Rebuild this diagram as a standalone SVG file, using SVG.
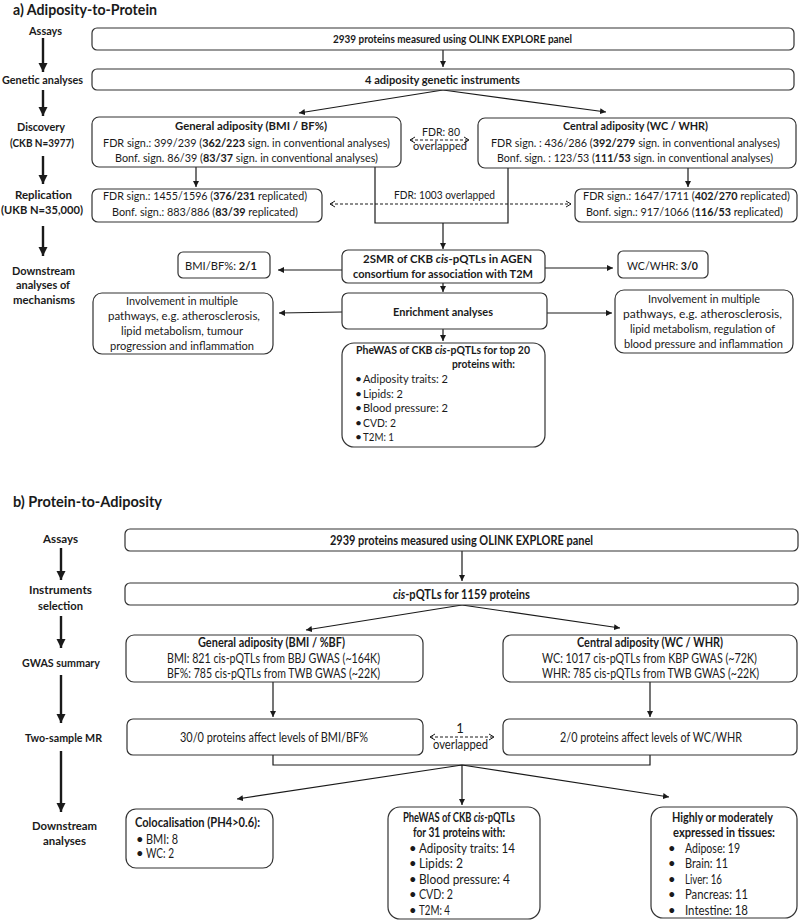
<svg xmlns="http://www.w3.org/2000/svg" width="800" height="922" viewBox="0 0 800 922">
<defs>
<marker id="ah" markerUnits="userSpaceOnUse" markerWidth="7" markerHeight="6" refX="6" refY="3" orient="auto"><path d="M0,0 L6,3 L0,6 z" fill="#1a1a1a"/></marker>
<marker id="big" markerUnits="userSpaceOnUse" markerWidth="10" markerHeight="10" refX="9" refY="5" orient="auto"><path d="M0,0.5 L9,5 L0,9.5 z" fill="#1a1a1a"/></marker>
<marker id="open" markerUnits="userSpaceOnUse" markerWidth="8" markerHeight="8" refX="6" refY="4" orient="auto-start-reverse"><path d="M1,1 L6,4 L1,7" fill="none" stroke="#1a1a1a" stroke-width="1"/></marker>
<style>
.box{fill:#fff;stroke:#333;stroke-width:1.2}
.t{font-family:Lato,"Liberation Sans",sans-serif;font-size:12px;fill:#1a1a1a}
.tb{font-family:Lato,"Liberation Sans",sans-serif;font-size:13px;fill:#1a1a1a}
.b{font-weight:bold}
.lab{font-family:Lato,"Liberation Sans",sans-serif;font-size:12px;font-weight:bold;fill:#1a1a1a}
.title{font-family:Lato,"Liberation Sans",sans-serif;font-size:16px;font-weight:bold;fill:#1a1a1a}
.ln{fill:none;stroke:#1a1a1a;stroke-width:1.2}
.la{fill:none;stroke:#1a1a1a;stroke-width:2.4}
.ds{fill:none;stroke:#1a1a1a;stroke-width:1;stroke-dasharray:3,2}
</style>
</defs>

<!-- Titles -->
<text class="title" x="13" y="15" textLength="144" lengthAdjust="spacingAndGlyphs">a) Adiposity-to-Protein</text>
<text class="title" x="13" y="507" textLength="149" lengthAdjust="spacingAndGlyphs">b) Protein-to-Adiposity</text>

<!-- Left labels part a -->
<g id="labels-a">
<text class="lab" x="29" y="35" textLength="33" lengthAdjust="spacingAndGlyphs">Assays</text>
<text class="lab" x="2" y="84" textLength="81" lengthAdjust="spacingAndGlyphs">Genetic analyses</text>
<text class="lab" x="17" y="131" textLength="48" lengthAdjust="spacingAndGlyphs">Discovery</text>
<text class="lab" x="10" y="147" textLength="64" lengthAdjust="spacingAndGlyphs">(CKB N=3977)</text>
<text class="lab" x="15" y="199" textLength="57" lengthAdjust="spacingAndGlyphs">Replication</text>
<text class="lab" x="1" y="214" textLength="82" lengthAdjust="spacingAndGlyphs">(UKB N=35,000)</text>
<text class="lab" x="12" y="275" textLength="63" lengthAdjust="spacingAndGlyphs">Downstream</text>
<text class="lab" x="16" y="289" textLength="54" lengthAdjust="spacingAndGlyphs">analyses of</text>
<text class="lab" x="13" y="304" textLength="62" lengthAdjust="spacingAndGlyphs">mechanisms</text>
</g>

<!-- Left labels part b -->
<g id="labels-b">
<text class="lab" x="43" y="543" textLength="35" lengthAdjust="spacingAndGlyphs">Assays</text>
<text class="lab" x="29" y="594" textLength="63" lengthAdjust="spacingAndGlyphs">Instruments</text>
<text class="lab" x="38" y="610" textLength="45" lengthAdjust="spacingAndGlyphs">selection</text>
<text class="lab" x="22" y="667" textLength="78" lengthAdjust="spacingAndGlyphs">GWAS summary</text>
<text class="lab" x="25" y="742" textLength="77" lengthAdjust="spacingAndGlyphs">Two-sample MR</text>
<text class="lab" x="32" y="830" textLength="65" lengthAdjust="spacingAndGlyphs">Downstream</text>
<text class="lab" x="43" y="845" textLength="43" lengthAdjust="spacingAndGlyphs">analyses</text>
</g>

<!-- Connectors -->
<g id="connectors">
<!-- stage arrows a -->
<line class="la" x1="43" y1="38" x2="43" y2="72" marker-end="url(#big)"/>
<line class="la" x1="43" y1="90" x2="43" y2="116" marker-end="url(#big)"/>
<line class="la" x1="43" y1="156" x2="43" y2="184" marker-end="url(#big)"/>
<line class="la" x1="43" y1="226" x2="43" y2="256" marker-end="url(#big)"/>
<!-- stage arrows b -->
<line class="la" x1="61" y1="548" x2="61" y2="580" marker-end="url(#big)"/>
<line class="la" x1="61" y1="616" x2="61" y2="648" marker-end="url(#big)"/>
<line class="la" x1="61" y1="675" x2="61" y2="723" marker-end="url(#big)"/>
<line class="la" x1="61" y1="751" x2="61" y2="812" marker-end="url(#big)"/>

<!-- part a flow -->
<line class="ln" x1="443" y1="50" x2="443" y2="67" marker-end="url(#ah)"/>
<line class="ln" x1="443" y1="90" x2="299" y2="113" marker-end="url(#ah)"/>
<line class="ln" x1="443" y1="90" x2="606" y2="112" marker-end="url(#ah)"/>
<line class="ds" x1="410" y1="140" x2="469" y2="140" marker-start="url(#open)" marker-end="url(#open)"/>
<line class="ln" x1="196" y1="167" x2="196" y2="187" marker-end="url(#ah)"/>
<line class="ln" x1="688" y1="168" x2="688" y2="187" marker-end="url(#ah)"/>
<line class="ds" x1="330" y1="204" x2="571" y2="204" marker-start="url(#open)" marker-end="url(#open)"/>
<path class="ln" d="M375,167 V223 H508 V168"/>
<line class="ln" x1="443" y1="223" x2="443" y2="249" marker-end="url(#ah)"/>
<line class="ln" x1="342" y1="270" x2="278" y2="270" marker-end="url(#ah)"/>
<line class="ln" x1="545" y1="268" x2="613" y2="268" marker-end="url(#ah)"/>
<line class="ln" x1="443" y1="283" x2="443" y2="292" marker-end="url(#ah)"/>
<line class="ln" x1="342" y1="312" x2="279" y2="313" marker-end="url(#ah)"/>
<line class="ln" x1="547" y1="313" x2="612" y2="313" marker-end="url(#ah)"/>
<line class="ln" x1="443" y1="329" x2="443" y2="341" marker-end="url(#ah)"/>

<!-- part b flow -->
<line class="ln" x1="462" y1="551" x2="462" y2="581" marker-end="url(#ah)"/>
<line class="ln" x1="462" y1="605" x2="306" y2="630" marker-end="url(#ah)"/>
<line class="ln" x1="462" y1="605" x2="620" y2="628" marker-end="url(#ah)"/>
<line class="ln" x1="273" y1="682" x2="273" y2="717" marker-end="url(#ah)"/>
<line class="ln" x1="650" y1="682" x2="650" y2="717" marker-end="url(#ah)"/>
<line class="ds" x1="430" y1="737" x2="494" y2="737" marker-start="url(#open)" marker-end="url(#open)"/>
<path class="ln" d="M273,755 V765 H650 V755"/>
<line class="ln" x1="462" y1="765" x2="462" y2="805" marker-end="url(#ah)"/>
<line class="ln" x1="462" y1="765" x2="237" y2="799" marker-end="url(#ah)"/>
<line class="ln" x1="462" y1="765" x2="669" y2="797" marker-end="url(#ah)"/>
</g>

<!-- connector labels -->
<g id="edge-labels">
<text class="t" x="422" y="136" textLength="38" lengthAdjust="spacingAndGlyphs">FDR: 80</text>
<text class="t" x="413" y="150" textLength="54" lengthAdjust="spacingAndGlyphs">overlapped</text>
<text class="t" x="394" y="199" textLength="101" lengthAdjust="spacingAndGlyphs">FDR: 1003 overlapped</text>
<text class="tb" x="460" y="733" text-anchor="middle">1</text>
<text class="tb" x="433" y="749" textLength="55" lengthAdjust="spacingAndGlyphs">overlapped</text>
</g>

<!-- Part a nodes -->
<g id="a-assays">
<rect class="box" x="92" y="28" width="702" height="22" rx="5"/>
<text class="t b" x="333" y="43" textLength="239" lengthAdjust="spacingAndGlyphs">2939 proteins measured using OLINK EXPLORE panel</text>
</g>
<g id="a-genetic">
<rect class="box" x="92" y="69" width="702" height="21" rx="5"/>
<text class="t b" x="365" y="84" textLength="155" lengthAdjust="spacingAndGlyphs">4 adiposity genetic instruments</text>
</g>
<g id="a-general">
<rect class="box" x="92" y="117" width="309" height="50" rx="7"/>
<text class="t b" x="175" y="130" textLength="152" lengthAdjust="spacingAndGlyphs">General adiposity (BMI / BF%)</text>
<text class="t" x="103" y="147" textLength="287" lengthAdjust="spacingAndGlyphs">FDR sign.: 399/239 (<tspan class="b">362/223</tspan> sign. in conventional analyses)</text>
<text class="t" x="115" y="162" textLength="263" lengthAdjust="spacingAndGlyphs">Bonf. sign. 86/39 (<tspan class="b">83/37</tspan> sign. in conventional analyses)</text>
</g>
<g id="a-central">
<rect class="box" x="478" y="118" width="318" height="50" rx="7"/>
<text class="t b" x="563" y="130" textLength="145" lengthAdjust="spacingAndGlyphs">Central adiposity (WC / WHR)</text>
<text class="t" x="491" y="147" textLength="289" lengthAdjust="spacingAndGlyphs">FDR sign. : 436/286 (<tspan class="b">392/279</tspan> sign. in conventional analyses)</text>
<text class="t" x="497" y="162" textLength="276" lengthAdjust="spacingAndGlyphs">Bonf. sign. : 123/53 (<tspan class="b">111/53</tspan> sign. in conventional analyses)</text>
</g>
<g id="a-rep-general">
<rect class="box" x="92" y="189" width="230" height="33" rx="6"/>
<text class="t" x="103" y="200" textLength="204" lengthAdjust="spacingAndGlyphs">FDR sign.: 1455/1596 (<tspan class="b">376/231</tspan> replicated)</text>
<text class="t" x="112" y="215.5" textLength="186" lengthAdjust="spacingAndGlyphs">Bonf. sign.: 883/886 (<tspan class="b">83/39</tspan> replicated)</text>
</g>
<g id="a-rep-central">
<rect class="box" x="575" y="189" width="222" height="33" rx="6"/>
<text class="t" x="583" y="200" textLength="207" lengthAdjust="spacingAndGlyphs">FDR sign.: 1647/1711 (<tspan class="b">402/270</tspan> replicated)</text>
<text class="t" x="586" y="215.5" textLength="197" lengthAdjust="spacingAndGlyphs">Bonf. sign.: 917/1066 (<tspan class="b">116/53</tspan> replicated)</text>
</g>
<g id="a-2smr">
<rect class="box" x="342" y="250" width="203" height="33" rx="6"/>
<text class="t b" x="363" y="263" textLength="169" lengthAdjust="spacingAndGlyphs">2SMR of CKB <tspan font-style="italic">cis</tspan>-pQTLs  in AGEN</text>
<text class="t b" x="353" y="278" textLength="180" lengthAdjust="spacingAndGlyphs">consortium for association with T2M</text>
</g>
<g id="a-bmi">
<rect class="box" x="178" y="252" width="92" height="26" rx="5"/>
<text class="t" x="185" y="269.5" textLength="72" lengthAdjust="spacingAndGlyphs">BMI/BF%: <tspan class="b">2/1</tspan></text>
</g>
<g id="a-wc">
<rect class="box" x="618" y="251" width="90" height="27" rx="5"/>
<text class="t" x="627" y="269.5" textLength="71" lengthAdjust="spacingAndGlyphs">WC/WHR: <tspan class="b">3/0</tspan></text>
</g>
<g id="a-enrich">
<rect class="box" x="342" y="293" width="205" height="36" rx="6"/>
<text class="t b" x="393" y="316" textLength="100" lengthAdjust="spacingAndGlyphs">Enrichment analyses</text>
</g>
<g id="a-inv-left">
<rect class="box" x="93" y="293" width="180" height="61" rx="9"/>
<text class="t" x="126" y="305" textLength="112" lengthAdjust="spacingAndGlyphs">Involvement in multiple</text>
<text class="t" x="108" y="320" textLength="152" lengthAdjust="spacingAndGlyphs">pathways, e.g. atherosclerosis,</text>
<text class="t" x="121" y="335" textLength="122" lengthAdjust="spacingAndGlyphs">lipid metabolism, tumour</text>
<text class="t" x="110" y="350" textLength="144" lengthAdjust="spacingAndGlyphs">progression and inflammation</text>
</g>
<g id="a-inv-right">
<rect class="box" x="615" y="290" width="178" height="63" rx="9"/>
<text class="t" x="648" y="303" textLength="112" lengthAdjust="spacingAndGlyphs">Involvement in multiple</text>
<text class="t" x="623" y="318" textLength="159" lengthAdjust="spacingAndGlyphs">pathways, e.g. atherosclerosis,</text>
<text class="t" x="630" y="333" textLength="145" lengthAdjust="spacingAndGlyphs">lipid metabolism, regulation of</text>
<text class="t" x="624" y="348" textLength="159" lengthAdjust="spacingAndGlyphs">blood pressure and inflammation</text>
</g>
<g id="a-phewas">
<rect class="box" x="342" y="343" width="203" height="104" rx="12"/>
<text class="t b" x="356" y="354" textLength="174" lengthAdjust="spacingAndGlyphs">PheWAS of CKB <tspan font-style="italic">cis</tspan>-pQTLs for top 20</text>
<text class="t b" x="452" y="368" textLength="63" lengthAdjust="spacingAndGlyphs">proteins with:</text>
<text class="t" x="355" y="383">•</text><text class="t" x="363" y="383" textLength="85" lengthAdjust="spacingAndGlyphs">Adiposity traits: 2</text>
<text class="t" x="355" y="397.5">•</text><text class="t" x="363" y="397.5" textLength="40" lengthAdjust="spacingAndGlyphs">Lipids: 2</text>
<text class="t" x="355" y="412">•</text><text class="t" x="363" y="412" textLength="85" lengthAdjust="spacingAndGlyphs">Blood pressure: 2</text>
<text class="t" x="355" y="426.5">•</text><text class="t" x="363" y="426.5" textLength="33" lengthAdjust="spacingAndGlyphs">CVD: 2</text>
<text class="t" x="355" y="441">•</text><text class="t" x="363" y="441" textLength="31" lengthAdjust="spacingAndGlyphs">T2M: 1</text>
</g>

<!-- Part b nodes -->
<g id="b-assays">
<rect class="box" x="125" y="529" width="673" height="22" rx="5"/>
<text class="tb b" x="330" y="544.5" textLength="263" lengthAdjust="spacingAndGlyphs">2939 proteins measured using OLINK EXPLORE panel</text>
</g>
<g id="b-instruments">
<rect class="box" x="125" y="583" width="673" height="22" rx="5"/>
<text class="tb b" x="393" y="598.5" textLength="137" lengthAdjust="spacingAndGlyphs"><tspan font-style="italic">cis</tspan>-pQTLs for 1159 proteins</text>
</g>
<g id="b-general">
<rect class="box" x="126" y="635" width="297" height="47" rx="8"/>
<text class="tb b" x="198" y="647" textLength="147" lengthAdjust="spacingAndGlyphs">General adiposity (BMI / %BF)</text>
<text class="tb" x="167" y="662.5" textLength="213" lengthAdjust="spacingAndGlyphs">BMI: 821 cis-pQTLs from BBJ GWAS (~164K)</text>
<text class="tb" x="167" y="677.5" textLength="213" lengthAdjust="spacingAndGlyphs">BF%: 785 cis-pQTLs from TWB GWAS (~22K)</text>
</g>
<g id="b-central">
<rect class="box" x="503" y="635" width="294" height="47" rx="8"/>
<text class="tb b" x="577" y="647" textLength="146" lengthAdjust="spacingAndGlyphs">Central adiposity (WC / WHR)</text>
<text class="tb" x="542" y="662.5" textLength="215" lengthAdjust="spacingAndGlyphs">WC: 1017 cis-pQTLs from KBP GWAS (~72K)</text>
<text class="tb" x="542" y="677.5" textLength="217" lengthAdjust="spacingAndGlyphs">WHR: 785 cis-pQTLs from TWB GWAS (~22K)</text>
</g>
<g id="b-mr-general">
<rect class="box" x="127" y="719" width="296" height="36" rx="6"/>
<text class="tb" x="180" y="742" textLength="188" lengthAdjust="spacingAndGlyphs">30/0 proteins affect levels of BMI/BF%</text>
</g>
<g id="b-mr-central">
<rect class="box" x="503" y="719" width="294" height="36" rx="6"/>
<text class="tb" x="560" y="742" textLength="182" lengthAdjust="spacingAndGlyphs">2/0 proteins affect levels of WC/WHR</text>
</g>
<g id="b-coloc">
<rect class="box" x="126" y="809" width="147" height="59" rx="10"/>
<text class="tb b" x="135" y="827" textLength="125" lengthAdjust="spacingAndGlyphs">Colocalisation (PH4&gt;0.6):</text>
<text class="tb" x="136" y="844">•</text><text class="tb" x="146" y="844" textLength="32" lengthAdjust="spacingAndGlyphs">BMI: 8</text>
<text class="tb" x="136" y="858">•</text><text class="tb" x="146" y="858" textLength="28" lengthAdjust="spacingAndGlyphs">WC: 2</text>
</g>
<g id="b-phewas">
<rect class="box" x="388" y="807" width="152" height="112" rx="12"/>
<text class="tb b" x="403" y="822" textLength="112" lengthAdjust="spacingAndGlyphs">PheWAS of CKB <tspan font-style="italic">cis</tspan>-pQTLs</text>
<text class="tb b" x="413" y="837" textLength="92" lengthAdjust="spacingAndGlyphs">for 31 proteins with:</text>
<text class="tb" x="409" y="853">•</text><text class="tb" x="419" y="853" textLength="96" lengthAdjust="spacingAndGlyphs">Adiposity traits: 14</text>
<text class="tb" x="409" y="868">•</text><text class="tb" x="419" y="868" textLength="44" lengthAdjust="spacingAndGlyphs">Lipids: 2</text>
<text class="tb" x="409" y="884">•</text><text class="tb" x="419" y="884" textLength="91" lengthAdjust="spacingAndGlyphs">Blood pressure: 4</text>
<text class="tb" x="409" y="899">•</text><text class="tb" x="419" y="899" textLength="34" lengthAdjust="spacingAndGlyphs">CVD: 2</text>
<text class="tb" x="409" y="915">•</text><text class="tb" x="419" y="915" textLength="31" lengthAdjust="spacingAndGlyphs">T2M: 4</text>
</g>
<g id="b-tissues">
<rect class="box" x="651" y="807" width="146" height="111" rx="12"/>
<text class="tb b" x="672" y="822" textLength="101" lengthAdjust="spacingAndGlyphs">Highly or moderately</text>
<text class="tb b" x="673" y="837" textLength="102" lengthAdjust="spacingAndGlyphs">expressed in tissues:</text>
<text class="tb" x="668" y="853">•</text><text class="tb" x="685" y="853" textLength="55" lengthAdjust="spacingAndGlyphs">Adipose: 19</text>
<text class="tb" x="668" y="868">•</text><text class="tb" x="685" y="868" textLength="43" lengthAdjust="spacingAndGlyphs">Brain: 11</text>
<text class="tb" x="668" y="884">•</text><text class="tb" x="685" y="884" textLength="37" lengthAdjust="spacingAndGlyphs">Liver: 16</text>
<text class="tb" x="668" y="899">•</text><text class="tb" x="685" y="899" textLength="63" lengthAdjust="spacingAndGlyphs">Pancreas: 11</text>
<text class="tb" x="668" y="915">•</text><text class="tb" x="685" y="915" textLength="63" lengthAdjust="spacingAndGlyphs">Intestine: 18</text>
</g>
</svg>
